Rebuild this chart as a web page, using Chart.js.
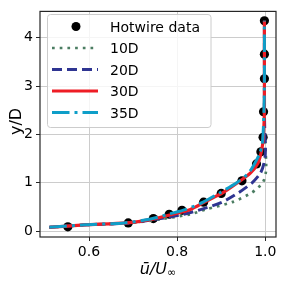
<!DOCTYPE html>
<html>
<head>
<meta charset="utf-8">
<script src="https://cdn.jsdelivr.net/npm/chart.js@4"></script>
<style>
    html, body { margin: 0; padding: 0; background: #ffffff; }
    #wrap { width: 284px; height: 282px; }
</style>
</head>
<body>
<div id="wrap"><canvas id="chartPerfil" width="284" height="282"></canvas></div>
<script>
// dados
const legendLabels = ['Hotwire data', '10D', '20D', '30D', '35D'];
const xTicks = [0.6, 0.8, 1.0];
const yTicks = [0, 1, 2, 3, 4];

const hotU = [0.552, 0.689, 0.746, 0.782, 0.811, 0.86, 0.90, 0.947, 0.98, 0.99, 0.995, 0.996, 0.998, 0.998, 0.998];
const hotY = [0.09, 0.17, 0.26, 0.35, 0.43, 0.60, 0.78, 1.04, 1.39, 1.64, 1.94, 2.47, 3.15, 3.66, 4.35];

const profY = [0.08, 0.13, 0.17, 0.25, 0.35, 0.45, 0.6, 0.8, 1.0, 1.2, 1.4, 1.6, 1.8, 2.0, 2.5, 3.0, 4.35];
const u10D = [0.51, 0.595, 0.695, 0.765, 0.83, 0.865, 0.925, 0.97, 0.994, 1.001, 1.002, 1.001, 1.0, 0.999, 0.998, 0.998, 0.998];
const u20D = [0.51, 0.595, 0.69, 0.755, 0.815, 0.855, 0.902, 0.94, 0.97, 0.989, 0.997, 1.0, 1.0, 0.999, 0.998, 0.998, 0.998];
const u30D = [0.51, 0.59, 0.685, 0.745, 0.79, 0.83, 0.862, 0.905, 0.937, 0.966, 0.983, 0.99, 0.994, 0.996, 0.998, 0.998, 0.998];
const u35D = [0.51, 0.59, 0.68, 0.74, 0.78, 0.82, 0.859, 0.898, 0.935, 0.962, 0.976, 0.987, 0.993, 0.995, 0.997, 0.998, 0.998];

const FONT = "'DejaVu Sans', sans-serif";
const toPoints = (xs, ys) => xs.map((x, i) => ({ x: x, y: ys[i] }));

const estilos = [
    { color: '#000000' },
    { color: '#4b7d62', dash: [2.7, 5], width: 2.7 },
    { color: '#2f3592', dash: [10, 5], width: 3 },
    { color: '#ee1d25', dash: [], width: 3.2 },
    { color: '#0e9ec8', dash: [17.5, 5, 3, 5], width: 3 }
];

const lineSet = (i, xs, order) => ({
    label: legendLabels[i],
    data: toPoints(xs, profY),
    showLine: true,
    pointRadius: 0,
    borderColor: estilos[i].color,
    borderWidth: estilos[i].width,
    borderDash: estilos[i].dash,
    borderCapStyle: 'butt',
    fill: false,
    tension: 0.25,
    order: order
});

// legenda e moldura no estilo matplotlib
const molduraPlugin = {
    id: 'moldura',
    afterDatasetsDraw(chart) {
        const { ctx, chartArea: a } = chart;
        ctx.save();
        ctx.strokeStyle = '#262626';
        ctx.lineWidth = 1.2;
        ctx.strokeRect(a.left, a.top, a.right - a.left, a.bottom - a.top);
        ctx.restore();
    },
    afterDraw(chart) {
        const ctx = chart.ctx;
        ctx.save();
        // caixa da legenda
        const bx = 47.5, by = 14.5, bw = 163.5, bh = 113, r = 3;
        ctx.beginPath();
        ctx.roundRect(bx, by, bw, bh, r);
        ctx.fillStyle = 'rgba(255,255,255,0.8)';
        ctx.fill();
        ctx.strokeStyle = '#cccccc';
        ctx.lineWidth = 1;
        ctx.stroke();

        ctx.font = '14px ' + FONT;
        ctx.textBaseline = 'alphabetic';
        ctx.textAlign = 'left';
        legendLabels.forEach((lbl, i) => {
            const yc = 26.5 + i * 21.5;
            const est = estilos[i];
            if (i === 0) {
                ctx.beginPath();
                ctx.arc(76, yc, 4.5, 0, Math.PI * 2);
                ctx.fillStyle = est.color;
                ctx.fill();
            } else {
                ctx.beginPath();
                ctx.setLineDash(est.dash);
                ctx.lineCap = 'butt';
                ctx.strokeStyle = est.color;
                ctx.lineWidth = est.width;
                ctx.moveTo(52, yc);
                ctx.lineTo(98, yc);
                ctx.stroke();
                ctx.setLineDash([]);
            }
            ctx.fillStyle = '#000000';
            ctx.fillText(lbl, 110, yc + 5);
        });

        // título do eixo x: ū/U∞
        ctx.fillStyle = '#000000';
        ctx.font = 'italic 16px ' + FONT;
        const main = 'ū/U';
        ctx.font = 'italic 16px ' + FONT;
        const wMain = ctx.measureText(main).width;
        ctx.font = 'italic 11px ' + FONT;
        const wSub = ctx.measureText('∞').width;
        const x0 = 158 - (wMain + wSub) / 2;
        ctx.font = 'italic 16px ' + FONT;
        ctx.fillText(main, x0, 273.5);
        ctx.font = 'italic 11px ' + FONT;
        ctx.fillText('∞', x0 + wMain, 276);

        // título do eixo y
        ctx.translate(20.5, 121.5);
        ctx.rotate(-Math.PI / 2);
        ctx.font = '16px ' + FONT;
        ctx.textAlign = 'center';
        ctx.fillText('y/D', 0, 0);
        ctx.restore();
    }
};

document.addEventListener('DOMContentLoaded', () => {
    const ctx = document.getElementById('chartPerfil').getContext('2d');
    new Chart(ctx, {
        type: 'scatter',
        data: {
            datasets: [
                {
                    label: legendLabels[0],
                    data: toPoints(hotU, hotY),
                    showLine: false,
                    pointRadius: 4.6,
                    pointBackgroundColor: '#000000',
                    pointBorderWidth: 0,
                    order: 5
                },
                lineSet(1, u10D, 4),
                lineSet(2, u20D, 3),
                lineSet(3, u30D, 2),
                lineSet(4, u35D, 1)
            ]
        },
        options: {
            responsive: false,
            animation: false,
            events: [],
            layout: { padding: { top: 6, right: 8, left: 0, bottom: 0 } },
            plugins: {
                legend: { display: false },
                tooltip: { enabled: false }
            },
            scales: {
                x: {
                    type: 'linear',
                    min: 0.4888,
                    max: 1.0243,
                    afterBuildTicks: (s) => { s.ticks = xTicks.map(v => ({ value: v })); },
                    afterFit: (s) => { s.height = 45; },
                    grid: { color: '#cccccc', lineWidth: 1, tickLength: 4, tickColor: '#262626' },
                    border: { display: false },
                    ticks: {
                        padding: 3,
                        color: '#000000',
                        font: { family: FONT, size: 14 },
                        maxRotation: 0,
                        callback: (v) => v.toFixed(1)
                    }
                },
                y: {
                    type: 'linear',
                    min: -0.121,
                    max: 4.545,
                    afterBuildTicks: (s) => { s.ticks = yTicks.map(v => ({ value: v })); },
                    afterFit: (s) => { s.width = 40; },
                    grid: { color: '#cccccc', lineWidth: 1, tickLength: 4, tickColor: '#262626' },
                    border: { display: false },
                    ticks: {
                        padding: 3,
                        color: '#000000',
                        font: { family: FONT, size: 14 },
                        callback: (v) => String(v)
                    }
                }
            }
        },
        plugins: [molduraPlugin]
    });
});
</script>
</body>
</html>
